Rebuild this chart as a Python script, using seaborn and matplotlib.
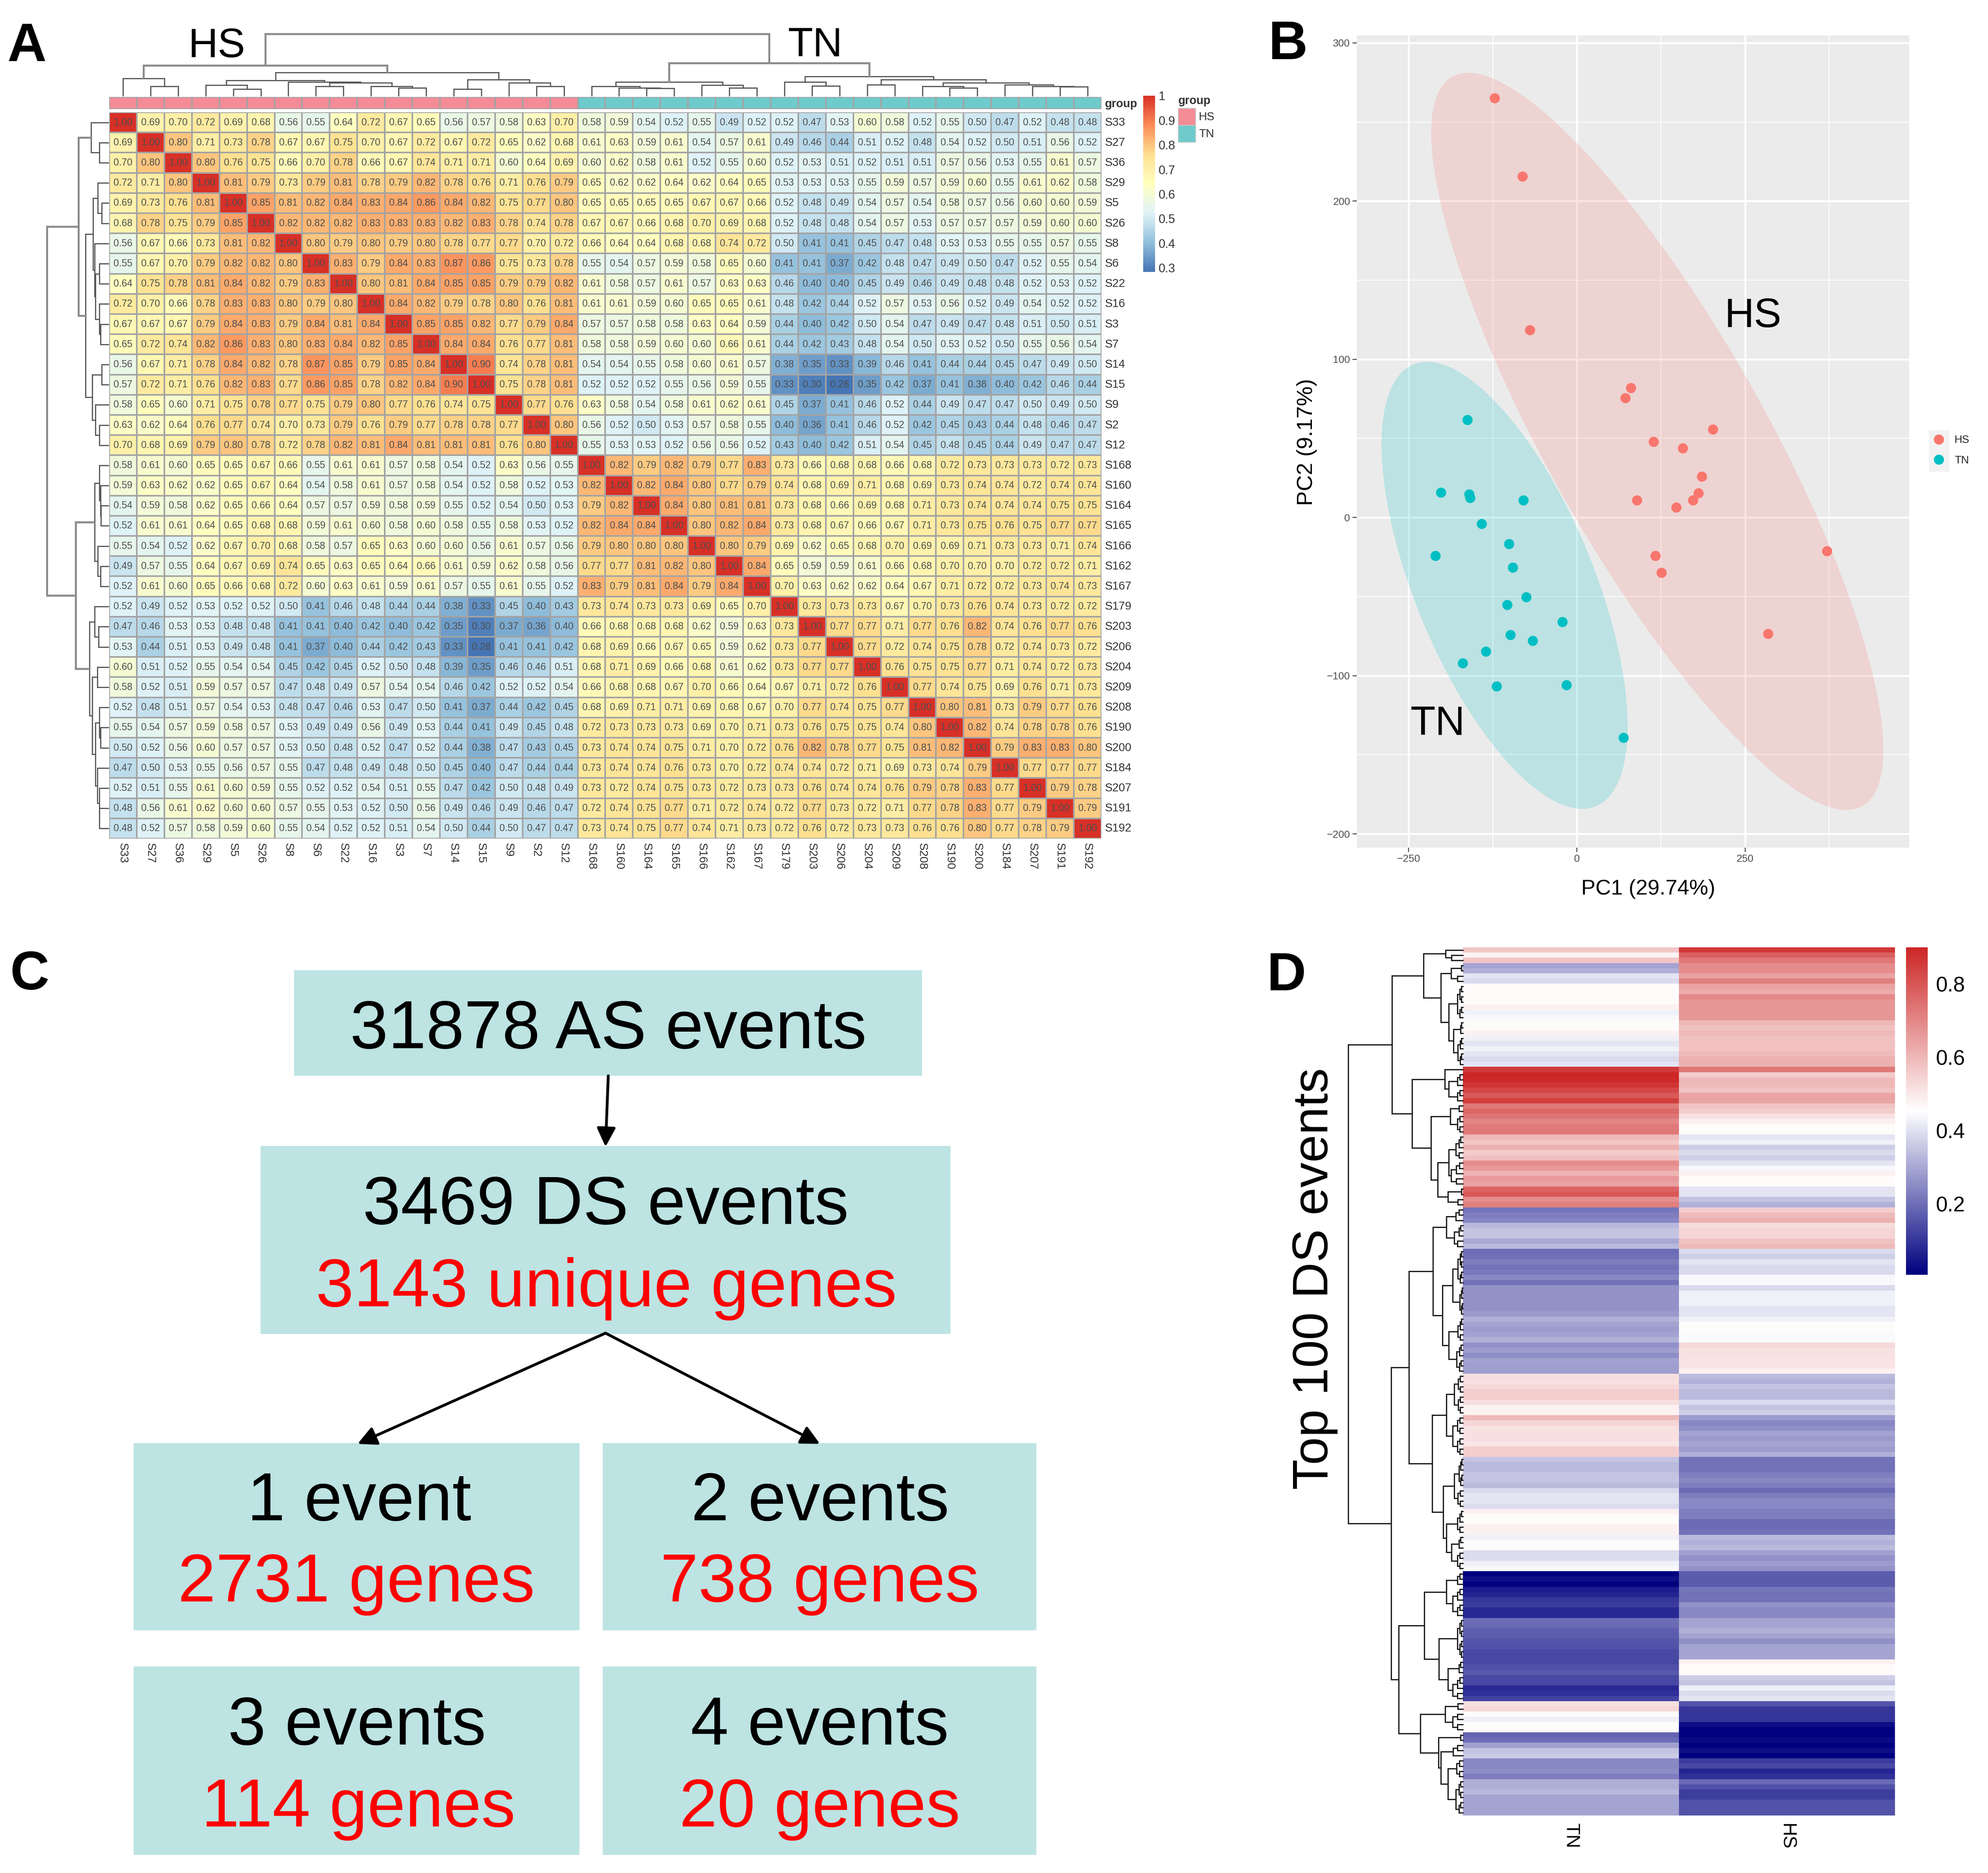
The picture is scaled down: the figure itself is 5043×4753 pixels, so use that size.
import numpy as np
import pandas as pd
import matplotlib
matplotlib.use("Agg")
import matplotlib.pyplot as plt
from matplotlib.colors import LinearSegmentedColormap, ListedColormap
from matplotlib.patches import Rectangle
import seaborn as sns

W, H = 5043, 4753
sns.set_theme(style="white")
plt.rcParams["font.family"] = ["Liberation Sans", "DejaVu Sans"]

# ---------- Panel A data ----------
sample_labels = ["S33","S27","S36","S29","S5","S26","S8","S6","S22","S16","S3","S7","S14","S15","S9","S2","S12",
                 "S168","S160","S164","S165","S166","S162","S167","S179","S203","S206","S204","S209","S208",
                 "S190","S200","S184","S207","S191","S192"]
sample_groups = [0]*17 + [1]*19
corr_upper = [
 [1,.69,.70,.72,.69,.68,.56,.55,.64,.72,.67,.65,.56,.57,.58,.63,.70,.58,.59,.54,.52,.55,.49,.52,.52,.47,.53,.60,.58,.52,.55,.50,.47,.52,.48,.48],
 [1,.80,.71,.73,.78,.67,.67,.75,.70,.67,.72,.67,.72,.65,.62,.68,.61,.63,.59,.61,.54,.57,.61,.49,.46,.44,.51,.52,.48,.54,.52,.50,.51,.56,.52],
 [1,.80,.76,.75,.66,.70,.78,.66,.67,.74,.71,.71,.60,.64,.69,.60,.62,.58,.61,.52,.55,.60,.52,.53,.51,.52,.51,.51,.57,.56,.53,.55,.61,.57],
 [1,.81,.79,.73,.79,.81,.78,.79,.82,.78,.76,.71,.76,.79,.65,.62,.62,.64,.62,.64,.65,.53,.53,.53,.55,.59,.57,.59,.60,.55,.61,.62,.58],
 [1,.85,.81,.82,.84,.83,.84,.86,.84,.82,.75,.77,.80,.65,.65,.65,.65,.67,.67,.66,.52,.48,.49,.54,.57,.54,.58,.57,.56,.60,.60,.59],
 [1,.82,.82,.82,.83,.83,.83,.82,.83,.78,.74,.78,.67,.67,.66,.68,.70,.69,.68,.52,.48,.48,.54,.57,.53,.57,.57,.57,.59,.60,.60],
 [1,.80,.79,.80,.79,.80,.78,.77,.77,.70,.72,.66,.64,.64,.68,.68,.74,.72,.50,.41,.41,.45,.47,.48,.53,.53,.55,.55,.57,.55],
 [1,.83,.79,.84,.83,.87,.86,.75,.73,.78,.55,.54,.57,.59,.58,.65,.60,.41,.41,.37,.42,.48,.47,.49,.50,.47,.52,.55,.54],
 [1,.80,.81,.84,.85,.85,.79,.79,.82,.61,.58,.57,.61,.57,.63,.63,.46,.40,.40,.45,.49,.46,.49,.48,.48,.52,.53,.52],
 [1,.84,.82,.79,.78,.80,.76,.81,.61,.61,.59,.60,.65,.65,.61,.48,.42,.44,.52,.57,.53,.56,.52,.49,.54,.52,.52],
 [1,.85,.85,.82,.77,.79,.84,.57,.57,.58,.58,.63,.64,.59,.44,.40,.42,.50,.54,.47,.49,.47,.48,.51,.50,.51],
 [1,.84,.84,.76,.77,.81,.58,.58,.59,.60,.60,.66,.61,.44,.42,.43,.48,.54,.50,.53,.52,.50,.55,.56,.54],
 [1,.90,.74,.78,.81,.54,.54,.55,.58,.60,.61,.57,.38,.35,.33,.39,.46,.41,.44,.44,.45,.47,.49,.50],
 [1,.75,.78,.81,.52,.52,.52,.55,.56,.59,.55,.33,.30,.28,.35,.42,.37,.41,.38,.40,.42,.46,.44],
 [1,.77,.76,.63,.58,.54,.58,.61,.62,.61,.45,.37,.41,.46,.52,.44,.49,.47,.47,.50,.49,.50],
 [1,.80,.56,.52,.50,.53,.57,.58,.55,.40,.36,.41,.46,.52,.42,.45,.43,.44,.48,.46,.47],
 [1,.55,.53,.53,.52,.56,.56,.52,.43,.40,.42,.51,.54,.45,.48,.45,.44,.49,.47,.47],
 [1,.82,.79,.82,.79,.77,.83,.73,.66,.68,.68,.66,.68,.72,.73,.73,.73,.72,.73],
 [1,.82,.84,.80,.77,.79,.74,.68,.69,.71,.68,.69,.73,.74,.74,.72,.74,.74],
 [1,.84,.80,.81,.81,.73,.68,.66,.69,.68,.71,.73,.74,.74,.74,.75,.75],
 [1,.80,.82,.84,.73,.68,.67,.66,.67,.71,.73,.75,.76,.75,.77,.77],
 [1,.80,.79,.69,.62,.65,.68,.70,.69,.69,.71,.73,.73,.71,.74],
 [1,.84,.65,.59,.59,.61,.66,.68,.70,.70,.70,.72,.72,.71],
 [1,.70,.63,.62,.62,.64,.67,.71,.72,.72,.73,.74,.73],
 [1,.73,.73,.73,.67,.70,.73,.76,.74,.73,.72,.72],
 [1,.77,.77,.71,.77,.76,.82,.74,.76,.77,.76],
 [1,.77,.72,.74,.75,.78,.72,.74,.73,.72],
 [1,.76,.75,.75,.77,.71,.74,.72,.73],
 [1,.77,.74,.75,.69,.76,.71,.73],
 [1,.80,.81,.73,.79,.77,.76],
 [1,.82,.74,.78,.78,.76],
 [1,.79,.83,.83,.80],
 [1,.77,.77,.77],
 [1,.79,.78],
 [1,.79],
 [1],
]
hs_tree = [0.49, [0.28, 0, [0.15, 1, 2]],
           [0.375, [0.25, [0.17, 3, [0.107, 4, 5]],
                    [0.225, 6, [0.21, [0.15, 7, 8], [0.15, 9, [0.13, 10, 11]]]]],
            [0.26, [0.11, 12, 13], [0.21, 14, [0.15, 15, 16]]]]]
tn_tree = [0.53, [0.225, [0.15, 17, [0.127, 18, [0.12, 19, 20]]], [0.17, 21, [0.13, 22, 23]]],
           [0.31, [0.225, 24, [0.16, 25, 26]],
            [0.26, [0.18, 27, 28],
             [0.21, [0.15, 29, [0.13, 30, 31]], [0.18, 32, [0.15, 33, [0.145, 34, 35]]]]]]]
sample_tree = [1.0, hs_tree, tn_tree]

# ---------- Panel B data ----------
hs_pc1 = [-122,-80.6,-69.6,80.6,72.3,202.5,114.3,157.7,186,181,172.9,89.5,148,117,126,372,284.4]
hs_pc2 = [265,215.5,118.4,81.8,75.4,55.6,47.8,43.7,25.8,15.3,10.8,10.8,6.3,-24.3,-35,-21.3,-73.6]
tn_pc1 = [-162.5,-201.8,-159.8,-158.4,-79.2,-141.2,-100.6,-210,-95,-75,-103.3,-21.3,-98.5,-65.4,-135,-169.4,-119,-15.2,69.6]
tn_pc2 = [61.6,15.7,14.6,12.3,10.8,-4.1,-16.8,-24.3,-31.7,-50.4,-55.3,-66.1,-74.3,-78,-84.8,-92.2,-106.8,-106,-139.3]
hs_ellipse = dict(half_x=336, half_y=233, r=-.837)
tn_ellipse = dict(half_x=182.9, half_y=141.3, r=-.63)

# ---------- Panel C data ----------
flow_black = ["31878 AS events","3469 DS events","1 event","2 events","3 events","4 events"]
flow_red = [None,"3143 unique genes","2731 genes","738 genes","114 genes","20 genes"]

# ---------- Panel D data (count, value) runs, top to bottom ----------
tn_runs = [(1,.570),(1,.484),(1,.570),(1,.295),(1,.315),(1,.406),(1,.388),(4,.463),(1,.484),(1,.427),(1,.441),(2,.463),
 (1,.482),(1,.427),(1,.406),(1,.427),(1,.406),(1,.388),(1,.406),
 (1,.859),(1,.90),(1,.89),(1,.869),(1,.832),(1,.793),(1,.848),(1,.727),(1,.764),(1,.739),(1,.702),(2,.727),
 (1,.599),(1,.57),(1,.616),(1,.56),(1,.583),(1,.688),(1,.661),(1,.61),(1,.661),(1,.643),(1,.768),(1,.793),(1,.69),(1,.715),
 (1,.209),(1,.227),(1,.243),(1,.330),(2,.351),(1,.300),(1,.332),(1,.195),(1,.204),(1,.225),(1,.206),(1,.216),(1,.244),(1,.206),
 (5,.262),(1,.276),(1,.315),(1,.295),(1,.279),(1,.292),(1,.315),(1,.258),(1,.279),(1,.257),(1,.292),(2,.283),
 (1,.521),(1,.517),(1,.533),(2,.554),(1,.521),(2,.484),(1,.593),(1,.537),(1,.513),(2,.517),(1,.504),(2,.552),
 (1,.351),(2,.334),(2,.349),(1,.334),(1,.388),(2,.406),(1,.392),(1,.486),(2,.463),(2,.484),(1,.427),(2,.463),(2,.392),(1,.427),(1,.441),
 (1,.006),(1,.032),(1,.011),(1,.057),(1,.071),(1,.101),(1,.111),(2,.076),(1,.195),(1,.192),(1,.173),(1,.169),(1,.155),(1,.150),(3,.132),
 (1,.146),(1,.160),(2,.132),(1,.076),(1,.090),(1,.122),(1,.517),(1,.533),(1,.463),(1,.427),(2,.463),(1,.181),(1,.195),(1,.286),(1,.346),(1,.362),
 (2,.244),(1,.251),(1,.227),(2,.311),(1,.329),(4,.295)]
hs_runs = [(1,.865),(1,.781),(1,.731),(2,.69),(1,.643),(1,.715),(1,.647),(1,.624),(1,.694),(4,.669),(1,.603),(1,.579),(1,.593),(3,.579),
 (1,.593),(2,.616),(1,.731),(1,.56),(2,.599),(1,.575),(2,.64),(1,.575),(1,.556),(1,.515),(1,.484),(2,.46),(1,.406),(1,.427),(1,.369),(1,.388),
 (1,.369),(1,.406),(1,.441),(1,.482),(2,.463),(2,.406),(1,.351),(1,.315),(1,.556),(1,.593),(1,.616),(1,.523),(2,.537),(1,.575),(1,.593),
 (1,.388),(1,.369),(1,.406),(2,.388),(2,.441),(1,.388),(3,.427),(2,.406),(1,.427),(2,.463),(2,.445),(1,.533),(2,.513),(2,.509),(1,.484),
 (1,.334),(1,.315),(1,.351),(2,.334),(1,.388),(1,.351),(1,.369),(1,.279),(1,.244),(1,.258),(1,.295),(1,.276),(1,.295),(1,.279),(1,.315),
 (3,.206),(1,.227),(1,.244),(1,.227),(1,.192),(1,.227),(2,.244),(2,.227),(2,.192),(1,.206),(1,.334),(1,.315),(1,.334),(1,.286),(1,.262),(1,.279),(1,.262),
 (3,.167),(1,.213),(1,.202),(1,.206),(1,.262),(2,.244),(2,.295),(1,.315),(1,.295),(1,.258),(3,.295),(1,.484),(2,.46),(1,.369),(1,.351),(1,.427),(1,.392),(1,.406),
 (1,.155),(1,.101),(2,.097),(1,.032),(1,.006),(1,.011),(1,.024),(1,.006),(1,.032),(1,.006),(1,.111),(1,.132),(1,.071),(1,.09),(1,.192),(1,.15),(2,.115),(3,.15)]
ds_tree = [365,
 [226,
  [125,
   [55, 0, [36, 1, 2]],
   [70, [38, (3,4,5), (5,6,18)],
        [45, (7,13,18), [30, (14,16,8), (17,22,16)]]]],
  [162,
   [58, 23, [45, (24,26,18), (27,29,18)]],
   [102, [40, (30,31,13), (32,35,18)],
         [80, [45, (36,40,23), (41,45,38)], [48, (46,47,5), (48,49,16)]]]]],
 [228,
  [172,
   [95, [53, (50,52,23), [28, (53,55,13), (56,57,18)]],
        [65, [33, (58,64,16), (65,70,10)], [45, (71,75,16), (76,81,20)]]],
   [98, [53, (82,89,28), (90,97,33)],
        [63, [28, (98,103,13), (104,107,16)],
             [53, (108,112,18), [36, (113,115,13), (116,119,18)]]]]],
  [204,
   [123, [53, (120,122,18), (123,128,33)],
         [76, (129,136,18), [48, (137,139,13), (140,144,33)]]],
   [136, [56, (145,146,16), (147,150,33)],
         [78, (151,152,8), [70, (153,155,31), [48, (156,159,20), (160,166,23)]]]]]]]

# ---------- helpers ----------
fig = plt.figure(figsize=(W/300, H/300), dpi=300, facecolor="white")
def axpx(x0, y0, x1, y1, **kw):
    return fig.add_axes([x0/W, 1-y1/H, (x1-x0)/W, (y1-y0)/H], **kw)
ov = fig.add_axes([0, 0, 1, 1], zorder=10)
ov.set_xlim(0, W); ov.set_ylim(H, 0); ov.axis("off"); ov.patch.set_alpha(0)

def expand(n):
    if isinstance(n, tuple):
        s, e, h = n
        if s == e:
            return s
        if e == s+1:
            return [h, s, e]
        m = (s+e)//2
        return [h, expand((s, m, h*.55)), expand((m+1, e, h*.55))]
    return n

def dendro(node, segs):
    """returns (leaf position, height); collects (pos_a,h_a,pos_b,h_b,h) per merge"""
    node = expand(node)
    if isinstance(node, (int, np.integer)):
        return node + .5, 0.0
    h, a, b = node
    pa, ha = dendro(a, segs)
    pb, hb = dendro(b, segs)
    segs.append((pa, ha, pb, hb, h))
    return (pa+pb)/2, h

# ---------- Panel A ----------
n = len(sample_labels)
corr = np.zeros((n, n))
for i, row in enumerate(corr_upper):
    corr[i, i:] = row
    corr[i:, i] = row
corr_df = pd.DataFrame(corr, index=sample_labels, columns=sample_labels)
rdylbu = LinearSegmentedColormap.from_list("ph", ["#4575B4","#91BFDB","#E0F3F8","#FFFFBF","#FEE090","#FC8D59","#D73027"])
HX0, HX1, HY0, HY1 = 277, 2794, 285, 2128
ax_a = axpx(HX0, HY0, HX1, HY1)
cax_a = axpx(2900, 243, 2930, 690)
sns.heatmap(corr_df, ax=ax_a, cmap=rdylbu, vmin=.283, vmax=1, annot=True, fmt=".2f",
            annot_kws=dict(size=5.9, color="#4D4D4D"), linewidths=.55, linecolor="#A3A3A3",
            cbar_ax=cax_a, cbar_kws=dict(ticks=[.3,.4,.5,.6,.7,.8,.9,1]))
cax_a.set_yticklabels(["0.3","0.4","0.5","0.6","0.7","0.8","0.9","1"], fontsize=7.4, color="#333333")
cax_a.tick_params(length=0, pad=2)
ax_a.yaxis.tick_right()
ax_a.set_yticklabels(sample_labels, rotation=0, fontsize=7, color="#333333", va="center")
ax_a.set_xticklabels(sample_labels, rotation=270, fontsize=7, color="#333333", ha="center", va="top")
ax_a.tick_params(length=0, axis="y", pad=2)
ax_a.tick_params(length=0, axis="x", pad=2.6)
ax_a.set_xlabel(""); ax_a.set_ylabel("")

ax_g = axpx(HX0, 246, HX1, 277)
sns.heatmap(np.array(sample_groups).reshape(1, -1), ax=ax_g, cmap=ListedColormap(["#F48C97","#6FCACB"]),
            cbar=False, xticklabels=False, yticklabels=False, linewidths=.55, linecolor="#A3A3A3")

cw = (HX1-HX0)/n; ch = (HY1-HY0)/n
segs = []
dendro(sample_tree, segs)
for pa, ha, pb, hb, h in segs:
    col, lw = ("#8C8C8C", 1.2) if h >= .45 and h < .6 or h == 1.0 else ("#555555", .7)
    xa, xb = HX0+pa*cw, HX0+pb*cw
    ov.plot([xa, xa, xb, xb], [243-ha*157, 243-h*157, 243-h*157, 243-hb*157], color=col, lw=lw, solid_joinstyle="miter")
    ya, yb = HY0+pa*ch, HY0+pb*ch
    ov.plot([275-ha*156, 275-h*156, 275-h*156, 275-hb*156], [ya, ya, yb, yb], color=col, lw=lw, solid_joinstyle="miter")

ov.text(2803, 264, "group", fontsize=7, fontweight="bold", color="#333333", va="center")
ov.text(2989, 256, "group", fontsize=7, fontweight="bold", color="#333333", va="center")
ov.add_patch(Rectangle((2989, 275), 44, 43, fc="#F48C97", ec="#C8C8C8", lw=.5))
ov.add_patch(Rectangle((2989, 318), 44, 43, fc="#6FCACB", ec="#C8C8C8", lw=.5))
ov.text(3041, 297, "HS", fontsize=7, color="#333333", va="center")
ov.text(3041, 340, "TN", fontsize=7, color="#333333", va="center")
ov.text(550, 145, "HS", fontsize=25, ha="center", va="baseline", color="black")
ov.text(2068, 143, "TN", fontsize=25, ha="center", va="baseline", color="black")

# ---------- Panel B ----------
ax_b = axpx(3442, 90, 4843, 2151)
ax_b.set_facecolor("#EBEBEB")
for s in ax_b.spines.values():
    s.set_visible(False)
pca = pd.DataFrame({"PC1": hs_pc1+tn_pc1, "PC2": hs_pc2+tn_pc2,
                    "group": ["HS"]*len(hs_pc1)+["TN"]*len(tn_pc1)})
for vals_x, vals_y, e, col in [(hs_pc1, hs_pc2, hs_ellipse, "#F8766D"), (tn_pc1, tn_pc2, tn_ellipse, "#00BFC4")]:
    t = np.linspace(0, 2*np.pi, 300)
    ex = np.mean(vals_x) + e["half_x"]*np.cos(t)
    ey = np.mean(vals_y) + e["half_y"]*(e["r"]*np.cos(t) + np.sqrt(1-e["r"]**2)*np.sin(t))
    ax_b.fill(ex, ey, color=col, alpha=.2, lw=0, zorder=1)
sns.scatterplot(data=pca, x="PC1", y="PC2", hue="group", palette={"HS":"#F8766D","TN":"#00BFC4"},
                s=38, linewidth=0, ax=ax_b, zorder=3)
leg = ax_b.get_legend()
handles = list(leg.legend_handles); labels = [t.get_text() for t in leg.get_texts()]
leg.remove()
ax_b.set_xlim(-327, 494); ax_b.set_ylim(-208.7, 304.7)
ax_b.set_xticks([-250, 0, 250]); ax_b.set_yticks([-200, -100, 0, 100, 200, 300])
ax_b.set_xticks([-125, 125, 375], minor=True); ax_b.set_yticks([-150, -50, 50, 150, 250], minor=True)
ax_b.set_axisbelow(True)
ax_b.grid(True, which="major", color="white", lw=1.1)
ax_b.grid(True, which="minor", color="white", lw=.55)
ax_b.tick_params(axis="both", which="major", length=2.6, width=.5, color="#333333", labelsize=6.3,
                 labelcolor="#4D4D4D", pad=1.5, bottom=True, left=True)
ax_b.tick_params(axis="both", which="minor", length=0)
ax_b.set_xlabel("PC1 (29.74%)", fontsize=13, color="black", va="center")
ax_b.set_ylabel("PC2 (9.17%)", fontsize=13.5, color="black", va="center")
ax_b.xaxis.set_label_coords((4181-3442)/1401, (2151-2256)/2061)
ax_b.yaxis.set_label_coords((3315-3442)/1401, 1-(1122-90)/2061)
ov.text(4447, 803, "HS", fontsize=25, ha="center", va="center", color="black")
ov.text(3647, 1838, "TN", fontsize=25, ha="center", va="center", color="black")
ov.add_patch(Rectangle((4893, 1092), 52, 105, fc="#F2F2F2", ec="none", zorder=1))
ov.legend(handles, labels, loc="center left", bbox_to_anchor=(4892, 1143), bbox_transform=ov.transData,
          frameon=False, fontsize=6.6, labelspacing=.92, handletextpad=.5, borderpad=0, borderaxespad=0,
          handlelength=1.9).set_zorder(5)

# ---------- Panel C ----------
box_col = "#BDE3E3"
boxes = [(746, 2462, 2339, 2730), (661, 2908, 2411, 3385), (339, 3662, 1470, 4137),
         (1529, 3662, 2629, 4137), (339, 4229, 1470, 4707), (1529, 4229, 2629, 4707)]
black_pos = [(1543, 2660), (1536, 3106), (911, 3858), (2080, 3858), (905, 4427), (2079, 4427)]
red_pos = [None, (1538, 3315), (904, 4064), (2080, 4064), (909, 4635), (2079, 4635)]
for b, tb, pb, tr, pr in zip(boxes, flow_black, black_pos, flow_red, red_pos):
    ov.add_patch(Rectangle((b[0], b[1]), b[2]-b[0], b[3]-b[1], fc=box_col, ec="none", zorder=1))
    ov.text(pb[0], pb[1], tb, fontsize=41.6, color="black", ha="center", va="baseline", zorder=3)
    if tr:
        ov.text(pr[0], pr[1], tr, fontsize=41.6, color="#FF0000", ha="center", va="baseline", zorder=3)
for a, c in [((1543, 2730), (1536, 2910)), ((1536, 3383), (907, 3664)), ((1536, 3383), (2080, 3664))]:
    ov.annotate("", xy=c, xytext=a, xycoords="data",
                arrowprops=dict(arrowstyle="-|>", color="black", lw=1.7, mutation_scale=24, shrinkA=0, shrinkB=0))

# ---------- Panel D ----------
ds_tn = np.concatenate([[v]*c for c, v in tn_runs])
ds_hs = np.concatenate([[v]*c for c, v in hs_runs])
assert len(ds_tn) == 167 and len(ds_hs) == 167, (len(ds_tn), len(ds_hs))
ds_df = pd.DataFrame({"TN": ds_tn, "HS": ds_hs})
nwr = LinearSegmentedColormap.from_list("nwr", ["#000080", "#FFFFFF", "#CD2626"])
ax_d = axpx(3711, 2404, 4807, 4607)
cax_d = axpx(4835, 2404, 4890, 3235)
sns.heatmap(ds_df, ax=ax_d, cmap=nwr, vmin=.006, vmax=.9, yticklabels=False,
            cbar_ax=cax_d, cbar_kws=dict(ticks=[.2,.4,.6,.8]))
cax_d.set_yticklabels(["0.2","0.4","0.6","0.8"], fontsize=12.8, color="black")
cax_d.tick_params(length=0, pad=5)
ax_d.set_xticklabels(["TN","HS"], rotation=270, fontsize=11.5, color="black", ha="center", va="top")
ax_d.tick_params(axis="x", length=0, pad=4.8)
rh = 2203/167
segs = []
dendro(ds_tree, segs)
for pa, ha, pb, hb, h in segs:
    k = 1/1.254
    ov.plot([3711-ha*k, 3711-h*k, 3711-h*k, 3711-hb*k],
            [2404+pa*rh, 2404+pa*rh, 2404+pb*rh, 2404+pb*rh], color="#1A1A1A", lw=.75, solid_joinstyle="miter")
ov.text(3368, 3245, "Top 100 DS events", fontsize=30.4, rotation=90, ha="center", va="baseline",
        rotation_mode="anchor", color="black")

# ---------- panel letters ----------
for letter, x, y in [("A", 19, 155), ("B", 3218, 150), ("C", 25, 2511), ("D", 3214, 2513)]:
    ov.text(x, y, letter, fontsize=33, fontweight="bold", color="black", ha="left", va="baseline")

fig.savefig("out.png", dpi=300)
